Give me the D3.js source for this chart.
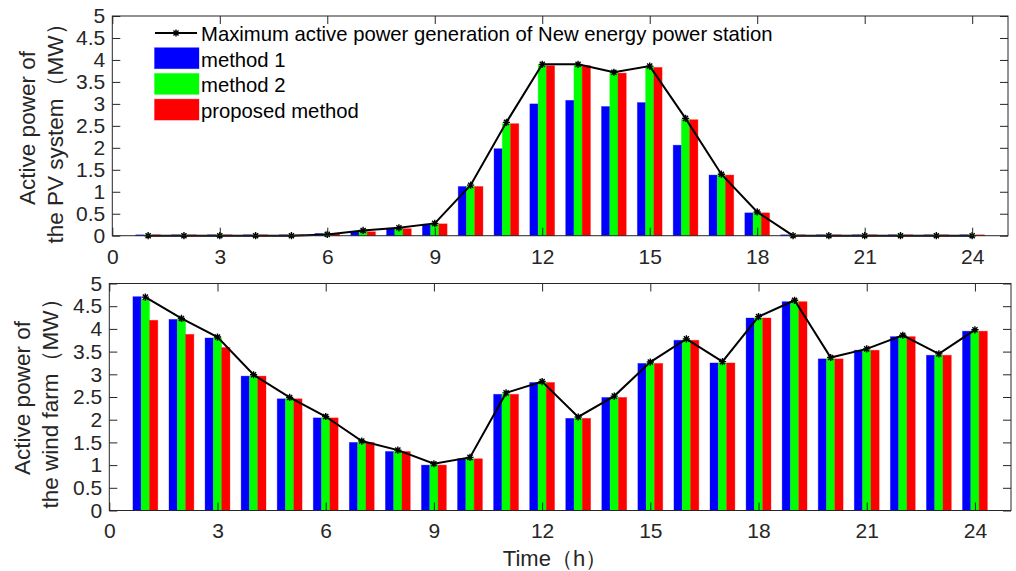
<!DOCTYPE html>
<html>
<head>
<meta charset="utf-8">
<script src="https://cdn.jsdelivr.net/npm/d3@7"></script>
<style>
  html, body { margin: 0; padding: 0; background: #fff; }
  svg { display: block; font-family: "Liberation Sans", Arial, sans-serif; }
</style>
</head>
<body>
<svg id="chart" width="1016" height="571"></svg>
<script>
// ---------- data ----------
const hours = [1,2,3,4,5,6,7,8,9,10,11,12,13,14,15,16,17,18,19,20,21,22,23,24];
const xTicks = [0,3,6,9,12,15,18,21,24];
const yTicks = [0,0.5,1,1.5,2,2.5,3,3.5,4,4.5,5];
const seriesNames = ["method 1", "method 2", "proposed method"];
const lineName = "Maximum active power generation of New energy power station";

// PV system
const pvMax    = [0,0,0,0,0,0.03,0.12,0.18,0.28,1.15,2.58,3.90,3.90,3.72,3.86,2.67,1.40,0.54,0,0,0,0,0,0];
const pvM1     = [0.02,0.02,0.02,0.02,0.02,0.05,0.09,0.16,0.26,1.12,1.98,3.00,3.08,2.94,3.03,2.06,1.38,0.52,0.02,0.02,0.02,0.02,0.02,0.02];
const pvM2     = [0.02,0.02,0.02,0.02,0.02,0.05,0.13,0.17,0.27,1.12,2.55,3.88,3.88,3.71,3.85,2.65,1.38,0.52,0.02,0.02,0.02,0.02,0.02,0.02];
const pvProp   = [0.02,0.02,0.02,0.02,0.02,0.04,0.09,0.16,0.27,1.12,2.55,3.87,3.87,3.70,3.83,2.64,1.38,0.52,0.02,0.02,0.02,0.02,0.02,0.02];

// wind farm
const windMax  = [4.70,4.23,3.82,2.99,2.49,2.07,1.53,1.33,1.03,1.17,2.59,2.84,2.06,2.52,3.27,3.78,3.28,4.27,4.63,3.37,3.56,3.86,3.45,3.98];
const windM1   = [4.71,4.21,3.80,2.96,2.46,2.04,1.50,1.30,1.00,1.14,2.56,2.82,2.03,2.49,3.24,3.75,3.25,4.24,4.60,3.34,3.53,3.83,3.42,3.95];
const windM2   = [4.65,4.21,3.80,2.96,2.46,2.04,1.50,1.30,1.00,1.14,2.56,2.82,2.03,2.49,3.24,3.75,3.25,4.24,4.60,3.34,3.53,3.83,3.42,3.95];
const windProp = [4.19,3.88,3.59,2.96,2.46,2.04,1.50,1.30,1.00,1.14,2.56,2.82,2.03,2.49,3.24,3.75,3.25,4.24,4.60,3.34,3.53,3.83,3.42,3.95];

const colors = ["#0000ff", "#00ff00", "#ff0000"];
const ink = "#262626";
const FONT = '"Liberation Sans", Arial, sans-serif';

const svg = d3.select("#chart");
svg.append("rect").attr("width", 1016).attr("height", 571).attr("fill", "#fff");

function starPath(r) {
  const d = r * Math.SQRT1_2;
  return `M${-r},0L${r},0M0,${-r}L0,${r}M${-d},${-d}L${d},${d}M${-d},${d}L${d},${-d}`;
}

function drawPanel(opt) {
  const { left, right, top, bottom, series, maxLine, ylab, ylabX, ylabCY } = opt;
  const x = d3.scaleLinear().domain([0, 25]).range([left, right]);
  const y = d3.scaleLinear().domain([0, 5]).range([bottom, top]);
  const g = svg.append("g");
  const barW = 0.23;

  // bars
  series.forEach((vals, si) => {
    g.append("g").selectAll("rect").data(hours).join("rect")
      .attr("x", (h) => x(h + (si - 1.5) * barW))
      .attr("width", x(barW) - x(0))
      .attr("y", (h, i) => y(vals[i]))
      .attr("height", (h, i) => y(0) - y(vals[i]))
      .attr("fill", colors[si])
      .attr("stroke", colors[si])
      .attr("stroke-opacity", 0.4)
      .attr("stroke-width", 0.8);
  });

  // max line
  const line = d3.line().x((h) => x(h)).y((h, i) => y(maxLine[i]));
  g.append("path").datum(hours).attr("d", line)
    .attr("fill", "none").attr("stroke", "#000").attr("stroke-width", 2);
  g.append("g").selectAll("path").data(hours).join("path")
    .attr("transform", (h, i) => `translate(${x(h)},${y(maxLine[i])})`)
    .attr("d", starPath(3.6))
    .attr("stroke", "#000").attr("stroke-width", 1.4).attr("fill", "none");

  // axes
  const axB = g.append("g").attr("transform", `translate(0,${bottom})`)
    .call(d3.axisBottom(x).tickValues(xTicks).tickSize(-8).tickSizeOuter(0).tickPadding(13).tickFormat(d3.format("d")));
  const axT = g.append("g").attr("transform", `translate(0,${top})`)
    .call(d3.axisTop(x).tickValues(xTicks).tickSize(-8).tickSizeOuter(0).tickFormat(""));
  const axL = g.append("g").attr("transform", `translate(${left},0)`)
    .call(d3.axisLeft(y).tickValues(yTicks).tickSize(-8).tickSizeOuter(0).tickPadding(7).tickFormat((d) => String(d)));
  const axR = g.append("g").attr("transform", `translate(${right},0)`)
    .call(d3.axisRight(y).tickValues(yTicks).tickSize(-8).tickSizeOuter(0).tickFormat(""));
  [axB, axT, axL, axR].forEach((a) => {
    a.select(".domain").remove();
    a.selectAll("line").attr("stroke", ink);
    a.selectAll("text").attr("fill", ink).style("font-size", "21px").style("font-family", FONT);
  });
  g.append("rect").attr("x", left).attr("y", top).attr("width", right - left).attr("height", bottom - top)
    .attr("fill", "none").attr("stroke", ink).attr("stroke-width", 1);

  // y label (two lines)
  ylab.forEach((t, k) => {
    g.append("text")
      .attr("transform", `translate(${ylabX[k]},${ylabCY}) rotate(-90)`)
      .attr("text-anchor", "middle")
      .attr("fill", ink).style("font-size", "22.5px")
      .text(t);
  });
  return { x, y, g };
}

drawPanel({
  left: 112.3, right: 1008, top: 16, bottom: 235.7,
  series: [pvM1, pvM2, pvProp], maxLine: pvMax,
  ylab: ["Active power of", "the PV system（MW）"], ylabX: [35, 63], ylabCY: 128
});
drawPanel({
  left: 109.3, right: 1011, top: 283.5, bottom: 510.5,
  series: [windM1, windM2, windProp], maxLine: windMax,
  ylab: ["Active power of", "the wind farm（MW）"], ylabX: [30, 58], ylabCY: 398
});

// x label
svg.append("text").attr("x", 555).attr("y", 565.5).attr("text-anchor", "middle")
  .attr("fill", ink).style("font-size", "22px").text("Time（h）");

// legend (top panel)
const lg = svg.append("g");
lg.append("line").attr("x1", 155).attr("x2", 197).attr("y1", 33).attr("y2", 33)
  .attr("stroke", "#000").attr("stroke-width", 2);
lg.append("path").attr("transform", "translate(176,33)").attr("d", starPath(3.6))
  .attr("stroke", "#000").attr("stroke-width", 1.4).attr("fill", "none");
lg.append("text").attr("x", 201).attr("y", 41).attr("fill", "#000").style("font-size", "20.3px").text(lineName);
seriesNames.forEach((n, i) => {
  const base = 66.7 + i * 25.7;
  lg.append("rect").attr("x", 154.5).attr("y", base - 19).attr("width", 44.5).attr("height", 21)
    .attr("fill", colors[i]).attr("stroke", colors[i]).attr("stroke-opacity", 0.4).attr("stroke-width", 0.8);
  lg.append("text").attr("x", 201).attr("y", base).attr("fill", "#000").style("font-size", "20.3px").text(n);
});
</script>
</body>
</html>
